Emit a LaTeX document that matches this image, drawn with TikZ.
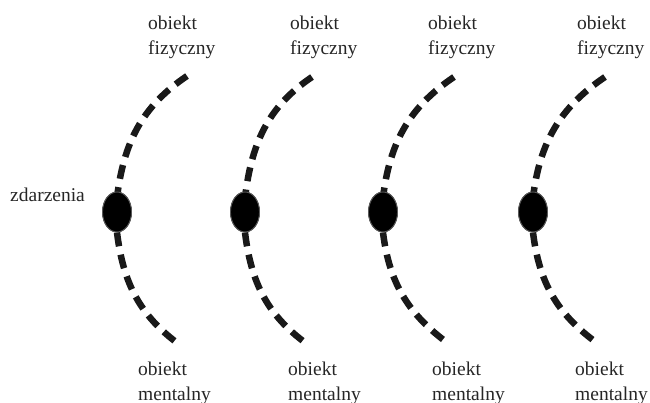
\documentclass[tikz,border=0pt]{standalone}
\usepackage{fontspec}
\setmainfont{Liberation Serif}
\usetikzlibrary{shapes.geometric}
\begin{document}
\begin{tikzpicture}[x=1pt,y=-1pt,
  ev/.style={ellipse,fill=black,draw=black!65,line width=0.9pt,minimum width=29pt,minimum height=40pt,inner sep=0pt},
  lbl/.style={anchor=base west,align=left,inner sep=0pt,font=\fontsize{19.5}{25}\selectfont,text=black!85},
  dline/.style={line width=6.5pt,dash pattern=on 14pt off 8.5pt,black!90}]
\useasboundingbox (0,0) rectangle (650,403);
\node[lbl] (z) at (10,202) {zdarzenia};
\foreach \i/\ex/\tx/\ty/\bx/\by/\ftx/\mtx in {1/117/187/76/180/345/148/138, 2/245/312/77/307/344/290/288, 3/383/454/77/449/344/428/432, 4/533/605/77/597/343/577/575}{
  \node[ev] (e\i) at (\ex,212) {};
  \coordinate (t\i) at (\tx,\ty);
  \coordinate (b\i) at (\bx,\by);
  \draw[dline] (t\i) to[out=214,in=83] ([yshift=-6pt]e\i.north);
  \draw[dline] (e\i.south) to[out=-83,in=144] (b\i);
  \node[ev] at (e\i) {};
  \node[lbl] (f\i) at (\ftx,55) {obiekt\\fizyczny};
  \node[lbl] (m\i) at (\mtx,400) {obiekt\\mentalny};
}
\end{tikzpicture}
\end{document}
